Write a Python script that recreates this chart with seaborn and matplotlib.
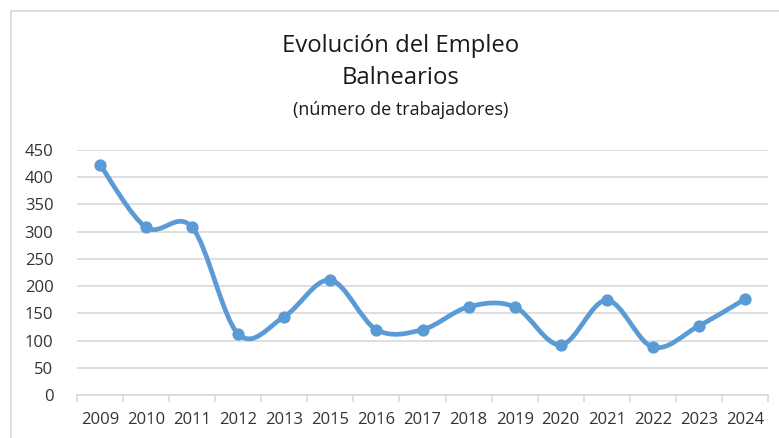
import numpy as np
import pandas as pd
import seaborn as sns
import matplotlib.pyplot as plt
from matplotlib.path import Path
from matplotlib.patches import PathPatch
from matplotlib.lines import Line2D

# datos
anios = ["2009", "2010", "2011", "2012", "2013", "2015", "2016", "2017",
         "2018", "2019", "2020", "2021", "2022", "2023", "2024"]
trabajadores = [423, 308, 308, 112, 144, 211, 120, 120, 162, 162, 92, 174, 88, 127, 176]
y_ticks = [0, 50, 100, 150, 200, 250, 300, 350, 400, 450]

azul = "#5B9BD5"
gris = "#D9D9D9"
texto = "#333333"

sns.set_theme(style="white")
plt.rcParams["font.family"] = ["Open Sans", "DejaVu Sans"]

df = pd.DataFrame({"pos": np.arange(len(anios)), "anio": anios, "valor": trabajadores})

fig = plt.figure(figsize=(7.79, 4.38), dpi=100)
ax = fig.add_axes([77 / 779, 1 - 395 / 438, (768 - 77) / 779, (395 - 150) / 438])

# línea suavizada (bezier tipo Catmull-Rom, como Excel)
pts = df[["pos", "valor"]].to_numpy(dtype=float)
n = len(pts)
verts = [tuple(pts[0])]
codes = [Path.MOVETO]
for i in range(n - 1):
    p0 = pts[max(i - 1, 0)]
    p1 = pts[i]
    p2 = pts[i + 1]
    p3 = pts[min(i + 2, n - 1)]
    c1 = p1 + (p2 - p0) / 6
    c2 = p2 - (p3 - p1) / 6
    verts += [tuple(c1), tuple(c2), tuple(p2)]
    codes += [Path.CURVE4] * 3
ax.add_patch(PathPatch(Path(verts, codes), facecolor="none", edgecolor=azul,
                       lw=3.4, capstyle="round", joinstyle="round", zorder=3))

sns.scatterplot(data=df, x="pos", y="valor", ax=ax, color=azul, s=78,
                edgecolor=azul, linewidth=0, zorder=4, legend=False)

ax.set_xlim(-0.5, n - 0.5)
ax.set_ylim(0, 450)
ax.set_yticks(y_ticks)
ax.set_yticklabels([str(v) for v in y_ticks])
ax.yaxis.grid(True, color=gris, lw=1.2)
ax.set_axisbelow(True)

ax.set_xticks(np.arange(-0.5, n, 1.0))
ax.set_xticklabels([])
ax.set_xticks(df["pos"], minor=True)
ax.set_xticklabels(anios, minor=True)
ax.tick_params(axis="x", which="major", length=5, width=1.1, color=gris, direction="out", bottom=True)
ax.tick_params(axis="x", which="minor", length=0, pad=12, labelsize=12, labelcolor=texto)
ax.tick_params(axis="y", length=0, pad=17, labelsize=12, labelcolor=texto)

ax.set_xlabel("")
ax.set_ylabel("")
for lado in ["top", "right", "left"]:
    ax.spines[lado].set_visible(False)
ax.spines["bottom"].set_color(gris)
ax.spines["bottom"].set_linewidth(1.2)

# títulos
cx = 401 / 779
fig.text(cx, 1 - 46 / 438, "Evolución del Empleo", ha="center", va="center", fontsize=17.2, color="#1a1a1a")
fig.text(cx, 1 - 78 / 438, "Balnearios", ha="center", va="center", fontsize=17.2, color="#1a1a1a")
fig.text(cx, 1 - 110 / 438, "(número de trabajadores)", ha="center", va="center", fontsize=13, color="#1a1a1a")

# borde del área del gráfico
fig.add_artist(Line2D([10.5 / 779, 1], [1 - 10.5 / 438] * 2, transform=fig.transFigure, color=gris, lw=1.3))
fig.add_artist(Line2D([10.5 / 779] * 2, [0, 1 - 10.5 / 438], transform=fig.transFigure, color=gris, lw=1.3))

fig.savefig("out.png", dpi=100)
